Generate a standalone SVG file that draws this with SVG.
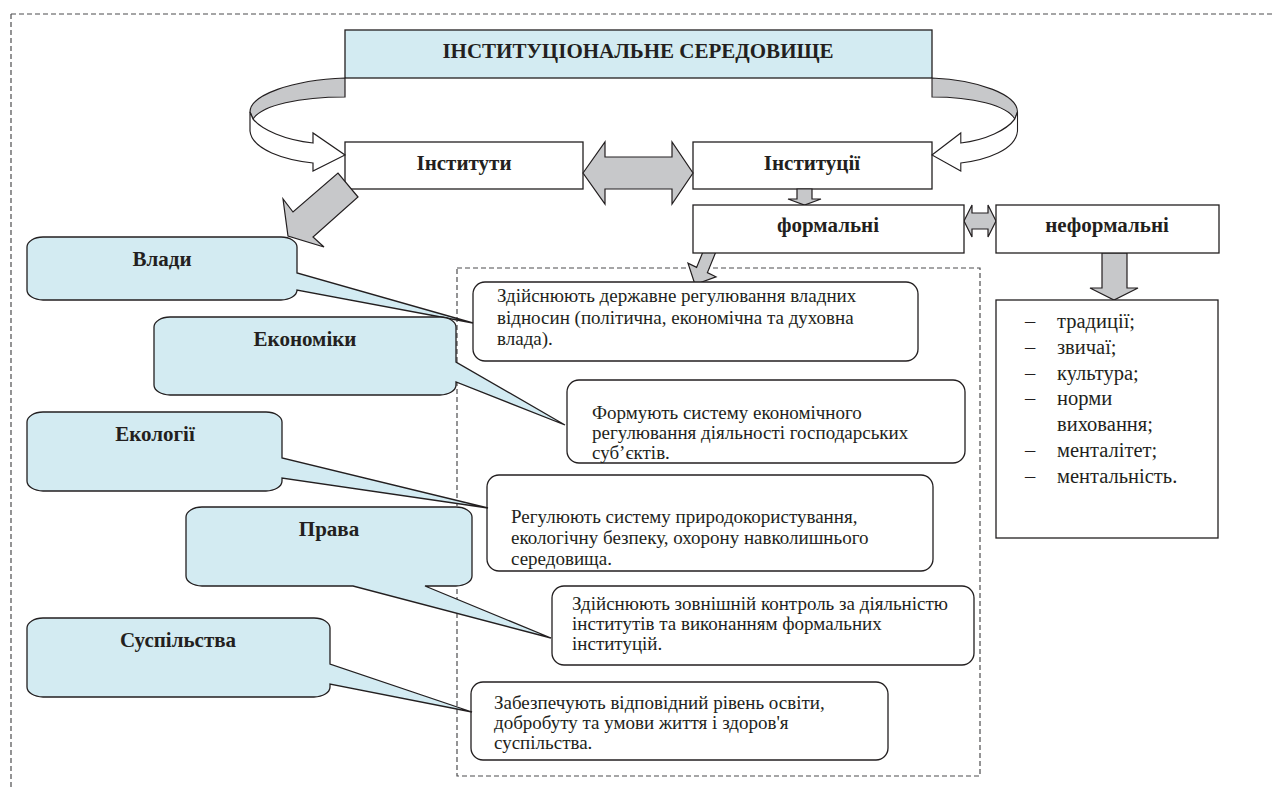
<svg xmlns="http://www.w3.org/2000/svg" width="1274" height="787" viewBox="0 0 1274 787">
<style>
.frame{fill:none;stroke:#4d4d4f;stroke-width:1.2;stroke-dasharray:5 3}
.box{fill:#fff;stroke:#231f20;stroke-width:1.3}
.blue{fill:#d3ebf2;stroke:#231f20;stroke-width:1.3}
.gray{fill:#c7c8ca;stroke:#231f20;stroke-width:1.2;stroke-linejoin:miter}
.white{fill:#fff;stroke:#231f20;stroke-width:1.2}
.hd{font-family:"Liberation Serif","Times New Roman",serif;font-weight:bold;font-size:21px;fill:#231f20;text-anchor:middle}
.tx{font-family:"Liberation Serif","Times New Roman",serif;font-size:19px;fill:#231f20}
.li{font-family:"Liberation Serif","Times New Roman",serif;font-size:20.5px;fill:#231f20}
</style>
<rect width="1274" height="787" fill="#fff"/>
<g id="frame">
<path class="frame" d="M11,14 H1274 M11,14 V787"/>
<rect class="frame" x="457" y="268" width="523" height="508"/>
</g>
<g id="title">
<rect class="blue" x="345" y="30" width="587" height="48"/>
<text class="hd" x="638" y="58">ІНСТИТУЦІОНАЛЬНЕ СЕРЕДОВИЩЕ</text>
</g>
<g id="instytuty">
<rect class="box" x="345" y="142" width="238" height="47"/>
<text class="hd" x="464" y="170">Інститути</text>
</g>
<g id="instytutsii">
<rect class="box" x="693" y="142" width="239" height="47"/>
<text class="hd" x="812" y="170">Інституції</text>
</g>
<g id="connectors">
<path class="gray" d="M345,78 C292,80 250,95 250,112 L253,119 C262,105 300,97 345,97 Z"/>
<path class="white" d="M250,112 L250,131 C252,150 285,160 313,163 L313,171 L345,155 L313,133 L313,143 C285,140 262,130 253,119 Z"/>
<g transform="matrix(-0.9,0,0,1,1242.5,0)">
<path class="gray" d="M345,78 C292,80 250,95 250,112 L253,119 C262,105 300,97 345,97 Z"/>
<path class="white" d="M250,112 L250,131 C252,150 285,160 313,163 L313,171 L345,155 L313,133 L313,143 C285,140 262,130 253,119 Z"/>
</g>
<polygon class="gray" points="583,173 605,142 605,157 672,157 672,142 693,173 672,204 672,189 605,189 605,204"/>
<polygon class="gray" points="358,197 338,173 293,212 283,199 288,236 324,247 313,237"/>
<polygon class="gray" points="797,189 812,189 812,199 821,199 804.5,205 788,199 797,199"/>
<polygon class="gray" points="964,221 972,205 972,213 988,213 988,205 996,221 988,237 988,229 972,229 972,237"/>
<polygon class="gray" points="1102,253 1127,253 1127,288 1138,288 1114,300 1090,288 1102,288"/>
<polygon class="gray" points="716.4,250.6 707.4,272.6 716,276.8 695,284.5 688,263.2 696.6,267.4 705.6,245.4"/>
</g>
<g id="formalni">
<rect class="box" x="693" y="205" width="271" height="48"/>
<text class="hd" x="828" y="232">формальні</text>
</g>
<g id="neformalni">
<rect class="box" x="996" y="205" width="223" height="48"/>
<text class="hd" x="1107" y="232">неформальні</text>
</g>
<g id="list">
<rect class="box" x="996" y="300" width="222" height="238"/>
<g class="li">
<text x="1025" y="328">–</text><text x="1057" y="328">традиції;</text>
<text x="1025" y="354">–</text><text x="1057" y="354">звичаї;</text>
<text x="1025" y="380">–</text><text x="1057" y="380">культура;</text>
<text x="1025" y="405">–</text><text x="1057" y="405">норми</text>
<text x="1057" y="431">виховання;</text>
<text x="1025" y="457">–</text><text x="1057" y="457">менталітет;</text>
<text x="1025" y="483">–</text><text x="1057" y="483">ментальність.</text>
</g>
</g>
<g id="box1">
<rect class="box" x="473" y="282" width="445" height="79" rx="12"/>
<text class="tx" x="497" y="302">Здійснюють державне регулювання владних</text>
<text class="tx" x="497" y="324">відносин (політична, економічна та духовна</text>
<text class="tx" x="497" y="345">влада).</text>
</g>
<g id="box2">
<rect class="box" x="567" y="380" width="398" height="83" rx="12"/>
<text class="tx" x="592" y="419">Формують систему економічного</text>
<text class="tx" x="592" y="439">регулювання діяльності господарських</text>
<text class="tx" x="592" y="459">суб’єктів.</text>
</g>
<g id="box3">
<rect class="box" x="487" y="475" width="446" height="96" rx="12"/>
<text class="tx" x="511" y="523">Регулюють систему природокористування,</text>
<text class="tx" x="511" y="544">екологічну безпеку, охорону навколишнього</text>
<text class="tx" x="511" y="565">середовища.</text>
</g>
<g id="box4">
<rect class="box" x="552" y="586" width="422" height="79" rx="12"/>
<text class="tx" x="572" y="610">Здійснюють зовнішній контроль за діяльністю</text>
<text class="tx" x="572" y="630">інститутів та виконанням формальних</text>
<text class="tx" x="572" y="650">інституцій.</text>
</g>
<g id="box5">
<rect class="box" x="471" y="682" width="417" height="78" rx="12"/>
<text class="tx" x="494" y="709">Забезпечують відповідний рівень освіти,</text>
<text class="tx" x="494" y="729">добробуту та умови життя і здоров'я</text>
<text class="tx" x="494" y="749">суспільства.</text>
</g>
<g id="vlady">
<path class="blue" d="M43,237 H281 A16,10 0 0 1 297,247 V273 L473,323 L297,290 A16,10 0 0 1 281,300 H43 A16,10 0 0 1 27,290 V247 A16,10 0 0 1 43,237 Z"/>
<text class="hd" x="162" y="266">Влади</text>
</g>
<g id="ekonomiky">
<path class="blue" d="M170,317 H440 A16,10 0 0 1 456,327 V362 L565,425 L456,382 V385 A16,10 0 0 1 440,395 H170 A16,10 0 0 1 154,385 V327 A16,10 0 0 1 170,317 Z"/>
<text class="hd" x="305" y="346">Економіки</text>
</g>
<g id="ekolohii">
<path class="blue" d="M43,412 H266 A16,10 0 0 1 282,422 V458 L488,508 L282,478 V481 A16,10 0 0 1 266,491 H43 A16,10 0 0 1 27,481 V422 A16,10 0 0 1 43,412 Z"/>
<text class="hd" x="155" y="441">Екології</text>
</g>
<g id="prava">
<path class="blue" d="M202,507 H456 A16,10 0 0 1 472,517 V576 A16,10 0 0 1 456,586 H425 L551,638 L353,586 H202 A16,10 0 0 1 186,576 V517 A16,10 0 0 1 202,507 Z"/>
<text class="hd" x="329" y="536">Права</text>
</g>
<g id="suspilstva">
<path class="blue" d="M43,618 H314 A16,10 0 0 1 330,628 V664 L472,712 L330,684 V687 A16,10 0 0 1 314,697 H43 A16,10 0 0 1 27,687 V628 A16,10 0 0 1 43,618 Z"/>
<text class="hd" x="178" y="647">Суспільства</text>
</g>
</svg>
